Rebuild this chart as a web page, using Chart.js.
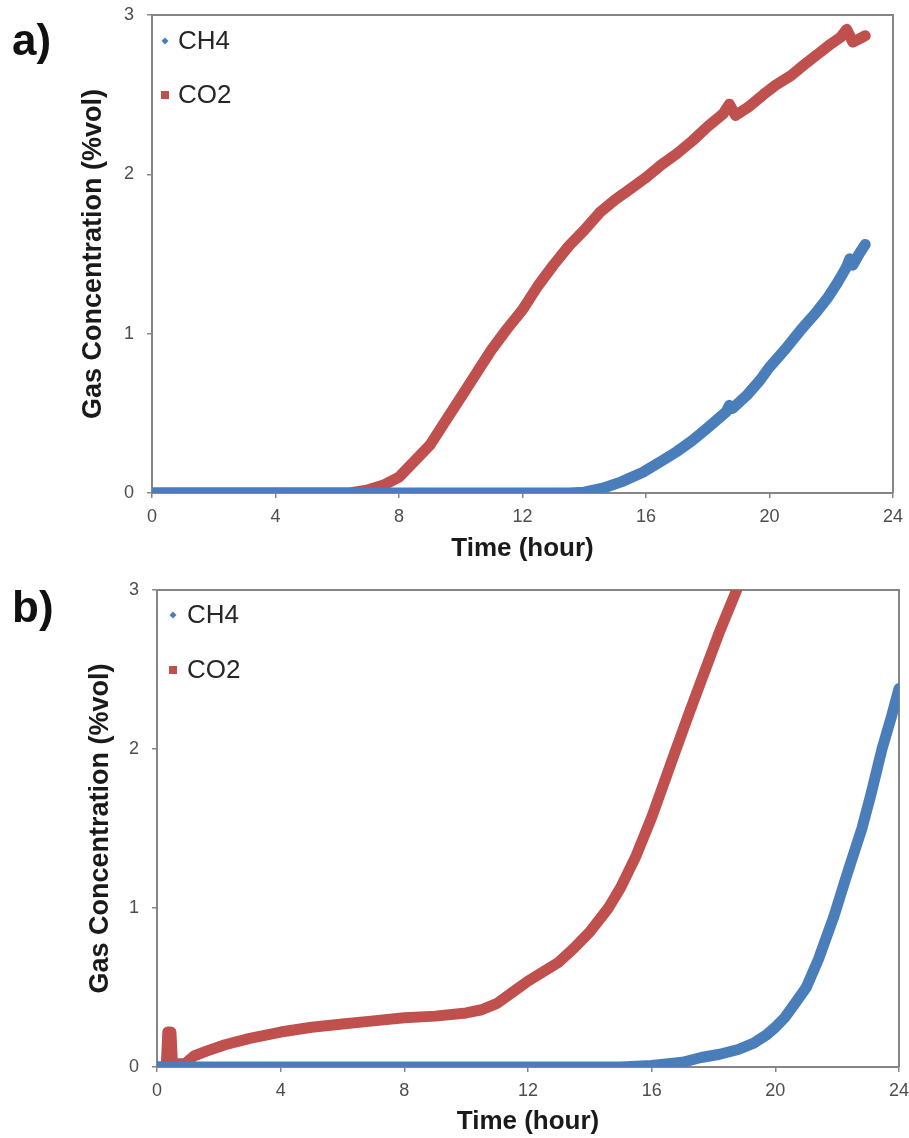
<!DOCTYPE html>
<html lang="en">
<head>
<meta charset="UTF-8">
<title>Gas Concentration vs Time</title>
<script src="https://cdn.jsdelivr.net/npm/chart.js@4.4.1/dist/chart.umd.min.js"></script>
<style>
  body { margin: 0; background: #fff; font-family: "Liberation Sans", Arial, sans-serif; }
  .page { position: relative; width: 909px; height: 1138px; overflow: hidden; }
  .panel { position: absolute; left: 0; }
  .tag { position: absolute; left: 12px; font-weight: bold; font-size: 44px; line-height: 44px; color: #111; }
</style>
</head>
<body>
<div class="page">
  <div class="panel" style="top:0"><canvas id="chartA" width="940" height="570"></canvas></div>
  <div class="panel" style="top:570px"><canvas id="chartB" width="940" height="568"></canvas></div>
  <div class="tag" style="top:18px">a)</div>
  <div class="tag" style="top:585px">b)</div>
</div>

<script>
// Panel a) measured series
const hoursA_CH4 = [0, 13.5, 14, 14.6, 15.2, 15.9, 16.5, 17, 17.5, 18, 18.6, 18.7, 18.8, 19.3, 19.7, 20, 20.5, 21, 21.5, 21.9, 22.2, 22.5, 22.6, 22.7, 22.9, 23.1];
const ch4A       = [0, 0, 0.005, 0.03, 0.07, 0.13, 0.2, 0.26, 0.33, 0.41, 0.51, 0.55, 0.53, 0.62, 0.71, 0.79, 0.9, 1.02, 1.13, 1.23, 1.32, 1.42, 1.47, 1.43, 1.5, 1.56];

const hoursA_CO2 = [0, 6.4, 7, 7.5, 8, 8.5, 9, 9.5, 10, 10.5, 11, 11.5, 12, 12.5, 13, 13.5, 14, 14.5, 15, 15.5, 16, 16.5, 17, 17.5, 18, 18.5, 18.7, 18.9, 19.3, 19.8, 20.2, 20.7, 21.2, 21.6, 22, 22.3, 22.5, 22.7, 23, 23.1];
const co2A       = [0, 0, 0.02, 0.05, 0.1, 0.2, 0.3, 0.45, 0.6, 0.75, 0.9, 1.03, 1.15, 1.3, 1.43, 1.55, 1.65, 1.76, 1.84, 1.91, 1.98, 2.06, 2.13, 2.21, 2.3, 2.38, 2.44, 2.37, 2.42, 2.5, 2.56, 2.62, 2.7, 2.76, 2.82, 2.86, 2.91, 2.83, 2.86, 2.87];

// Panel b) measured series
const hoursB_CH4 = [0, 15, 16, 17, 17.6, 18.2, 18.8, 19.3, 19.7, 20, 20.3, 20.6, 21, 21.4, 21.9, 22.3, 22.8, 23.1, 23.45, 23.75, 24];
const ch4B       = [0, 0, 0.01, 0.03, 0.06, 0.08, 0.11, 0.15, 0.2, 0.25, 0.31, 0.39, 0.5, 0.68, 0.95, 1.2, 1.5, 1.72, 2.0, 2.2, 2.38];

const hoursB_CO2 = [0, 0.3, 0.35, 0.45, 0.5, 0.9, 1.2, 1.6, 2.2, 3, 4, 5, 6, 7, 8, 9, 10, 10.5, 11, 11.5, 12, 12.5, 13, 13.5, 14, 14.6, 15, 15.5, 16, 16.7, 17.2, 17.7, 18.2, 18.75];
const co2B       = [0, 0, 0.22, 0.22, 0.02, 0.02, 0.07, 0.1, 0.14, 0.18, 0.22, 0.25, 0.27, 0.29, 0.31, 0.32, 0.34, 0.36, 0.4, 0.47, 0.54, 0.6, 0.66, 0.75, 0.85, 1.0, 1.13, 1.33, 1.57, 1.95, 2.22, 2.48, 2.74, 3.0];

const xTicks = [0, 4, 8, 12, 16, 20, 24];
const yTicks = [0, 1, 2, 3];
const seriesNames = ['CH4', 'CO2'];

const BLUE = '#4a7ebb';
const RED = '#c0504d';
const AXIS = '#868686';
const TICK_TEXT = '#4d4d4d';

function toPoints(xs, ys) {
  return xs.map((x, i) => ({ x: x, y: ys[i] }));
}

function dataset(label, xs, ys, color, marker) {
  return {
    label: label,
    data: toPoints(xs, ys),
    borderColor: color,
    backgroundColor: color,
    borderWidth: 11,
    borderCapStyle: 'round',
    borderJoinStyle: 'round',
    pointRadius: 0,
    pointStyle: marker,
    tension: 0
  };
}

// top and right edges of the plot box
const framePlugin = {
  id: 'frame',
  beforeDatasetsDraw(chart) {
    const { ctx, chartArea: a } = chart;
    ctx.save();
    ctx.strokeStyle = AXIS;
    ctx.lineWidth = 2;
    ctx.beginPath();
    ctx.moveTo(a.left, a.top);
    ctx.lineTo(a.right, a.top);
    ctx.lineTo(a.right, a.bottom);
    ctx.stroke();
    ctx.restore();
  }
};

// stacked legend inside the top-left corner of the plot
const insideLegend = {
  id: 'insideLegend',
  afterDatasetsDraw(chart, args, opts) {
    const { ctx, chartArea: a } = chart;
    ctx.save();
    ctx.font = '26px "Liberation Sans", Arial, sans-serif';
    ctx.textBaseline = 'middle';
    ctx.textAlign = 'left';
    chart.data.datasets.forEach((ds, i) => {
      const y = a.top + opts.rows[i];
      const mx = a.left + opts.markerX;
      ctx.fillStyle = ds.borderColor;
      if (ds.pointStyle === 'rectRot') {
        ctx.beginPath();
        ctx.moveTo(mx, y - 3.5);
        ctx.lineTo(mx + 3.5, y);
        ctx.lineTo(mx, y + 3.5);
        ctx.lineTo(mx - 3.5, y);
        ctx.closePath();
        ctx.fill();
      } else {
        ctx.fillRect(mx - 4, y - 4, 8, 8);
      }
      ctx.fillStyle = '#262626';
      ctx.fillText(ds.label, a.left + opts.textX, y + 1);
    });
    ctx.restore();
  }
};

function makeScales(yWidth, xHeight) {
  return {
    x: {
      type: 'linear',
      min: 0,
      max: 24,
      afterBuildTicks(s) { s.ticks = xTicks.map(v => ({ value: v })); },
      ticks: { color: TICK_TEXT, font: { size: 18 }, padding: 8, maxRotation: 0 },
      grid: { drawOnChartArea: false, tickLength: 5, color: AXIS, lineWidth: 1.5 },
      border: { color: AXIS, width: 2 },
      title: { display: true, text: 'Time (hour)', color: '#1a1a1a', font: { size: 26, weight: 'bold' }, padding: 0 },
      afterFit(s) {
        s.height = xHeight;
        s.paddingLeft = 0;
        s.paddingRight = 0;
      }
    },
    y: {
      type: 'linear',
      min: 0,
      max: 3,
      afterBuildTicks(s) { s.ticks = yTicks.map(v => ({ value: v })); },
      ticks: { color: TICK_TEXT, font: { size: 18 }, padding: 13 },
      grid: { drawOnChartArea: false, tickLength: 5, color: AXIS, lineWidth: 1.5 },
      border: { color: AXIS, width: 2 },
      title: { display: true, text: 'Gas Concentration (%vol)', color: '#1a1a1a', font: { size: 27, weight: 'bold' }, padding: 0 },
      afterFit(s) {
        s.width = yWidth;
        s.paddingTop = 0;
        s.paddingBottom = 0;
      }
    }
  };
}

Chart.defaults.font.family = '"Liberation Sans", Arial, sans-serif';

function buildChart(id, sets, padding, yWidth, xHeight, legendOpts) {
  return new Chart(document.getElementById(id), {
    type: 'line',
    data: { datasets: sets },
    options: {
      responsive: false,
      animation: false,
      layout: { padding: padding },
      plugins: {
        legend: { display: false },
        tooltip: { enabled: false },
        insideLegend: legendOpts
      },
      scales: makeScales(yWidth, xHeight)
    },
    plugins: [framePlugin, insideLegend]
  });
}

buildChart('chartA', [
  dataset(seriesNames[0], hoursA_CH4, ch4A, BLUE, 'rectRot'),
  dataset(seriesNames[1], hoursA_CO2, co2A, RED, 'rect')
], { left: 77, top: 15, right: 47, bottom: 6 }, 75, 71, { markerX: 13, textX: 26, rows: [26, 80] });

buildChart('chartB', [
  dataset(seriesNames[0], hoursB_CH4, ch4B, BLUE, 'rectRot'),
  dataset(seriesNames[1], hoursB_CO2, co2B, RED, 'rect')
], { left: 84, top: 20, right: 41, bottom: 1 }, 73, 70, { markerX: 16, textX: 30, rows: [25, 80] });
</script>
</body>
</html>
